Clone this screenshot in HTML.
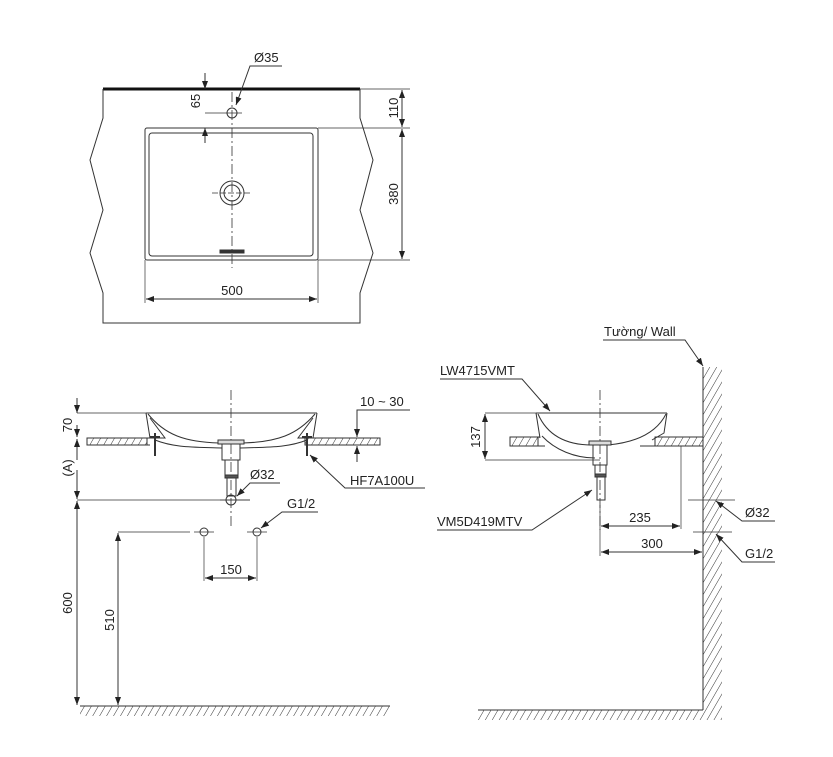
<!DOCTYPE html>
<html><head><meta charset="utf-8"><style>
html,body{margin:0;padding:0;background:#fff}
svg{display:block}
text{font-family:"Liberation Sans",Arial,sans-serif;font-size:13px;fill:#222}
</style></head><body>
<svg width="833" height="757" viewBox="0 0 833 757" xmlns="http://www.w3.org/2000/svg">
<defs>
<pattern id="h" width="6" height="6" patternUnits="userSpaceOnUse" patternTransform="rotate(30)">
<line x1="0" y1="0" x2="0" y2="6" stroke="#333" stroke-width="1"/></pattern>
<marker id="a" markerWidth="8" markerHeight="6" refX="8" refY="3" orient="auto" markerUnits="userSpaceOnUse">
<path d="M0,0 L8,3 L0,6 z" fill="#222"/></marker>
</defs>
<g fill="none" stroke="#333" stroke-width="1">
<!-- TOP VIEW -->
<line x1="103" y1="89" x2="360" y2="89" stroke="#111" stroke-width="3"/>
<polyline points="103,89 103,118 90,160 103,210 90,253 103,293 103,323 360,323 360,293 373,253 360,210 373,160 360,118 360,89"/>
<rect x="145" y="128" width="173" height="132" rx="2"/>
<rect x="149" y="133" width="164" height="123" rx="3"/>
<line x1="232" y1="92" x2="232" y2="268" stroke-dasharray="10,3,2,3" stroke-width="0.8"/>
<circle cx="232" cy="113" r="5"/>
<line x1="222" y1="113" x2="242" y2="113" stroke-width="0.8"/>
<circle cx="232" cy="193" r="12"/><circle cx="232" cy="193" r="8"/>
<line x1="212" y1="193" x2="252" y2="193" stroke-dasharray="6,2" stroke-width="0.8"/>
<path d="M220,250 h24 v3 h-24 z" fill="#333"/>
<line x1="205" y1="73" x2="205" y2="89" marker-end="url(#a)"/>
<line x1="205" y1="143" x2="205" y2="128" marker-end="url(#a)"/>
<line x1="205" y1="113" x2="222" y2="113" stroke-width="0.8"/>
<polyline points="282,66 250,66 236,105" marker-end="url(#a)"/>
<line x1="360" y1="89" x2="410" y2="89" stroke-width="0.7"/>
<line x1="318" y1="128" x2="410" y2="128" stroke-width="0.7"/>
<line x1="318" y1="260" x2="410" y2="260" stroke-width="0.7"/>
<line x1="402" y1="96" x2="402" y2="90" marker-end="url(#a)"/>
<line x1="402" y1="96" x2="402" y2="127" marker-end="url(#a)"/>
<line x1="402" y1="190" x2="402" y2="129" marker-end="url(#a)"/>
<line x1="402" y1="190" x2="402" y2="259" marker-end="url(#a)"/>
<line x1="145" y1="260" x2="145" y2="303" stroke-width="0.7"/>
<line x1="318" y1="260" x2="318" y2="303" stroke-width="0.7"/>
<line x1="232" y1="299" x2="146" y2="299" marker-end="url(#a)"/>
<line x1="232" y1="299" x2="317" y2="299" marker-end="url(#a)"/>

<!-- LEFT SIDE VIEW -->
<rect x="87" y="438" width="60" height="7" fill="url(#h)"/>
<rect x="305" y="438" width="75" height="7" fill="url(#h)"/>
<line x1="87" y1="438" x2="150" y2="438"/><line x1="87" y1="445" x2="150" y2="445"/>
<line x1="310" y1="438" x2="380" y2="438"/><line x1="310" y1="445" x2="380" y2="445"/>
<line x1="231" y1="390" x2="231" y2="527" stroke-dasharray="10,3,2,3" stroke-width="0.8"/>
<line x1="146" y1="413" x2="317" y2="413"/>
<path d="M146,413 L150,438 L165,438 L150,418"/>
<path d="M317,413 L313,438 L298,438 L313,418"/>
<path d="M148,414 C165,435 185,442 219,443 M243,443 C277,442 297,435 315,414"/>
<path d="M155,440 C175,448 195,447 222,448 M240,448 C267,447 287,448 307,440"/>
<rect x="218" y="440" width="26" height="4" fill="#ddd"/>
<rect x="222" y="444" width="18" height="16"/>
<rect x="225" y="460" width="13" height="15"/>
<rect x="225" y="475" width="13" height="3" fill="#555"/>
<rect x="227" y="478" width="9" height="18"/>
<circle cx="231" cy="500" r="5"/>
<line x1="220" y1="500" x2="250" y2="500" stroke-width="0.7"/>
<line x1="155" y1="433" x2="155" y2="456" stroke-width="2"/>
<line x1="307" y1="433" x2="307" y2="456" stroke-width="2"/>
<line x1="150" y1="437" x2="160" y2="437" stroke-width="2"/><line x1="302" y1="437" x2="312" y2="437" stroke-width="2"/>
<line x1="77" y1="413" x2="146" y2="413" stroke-width="0.7"/>
<line x1="77" y1="398" x2="77" y2="413" marker-end="url(#a)"/>
<line x1="77" y1="425" x2="77" y2="437" marker-end="url(#a)"/>
<line x1="77" y1="460" x2="77" y2="439" marker-end="url(#a)"/>
<line x1="77" y1="470" x2="77" y2="499" marker-end="url(#a)"/>
<line x1="77" y1="500" x2="250" y2="500" stroke-width="0.7"/>
<line x1="77" y1="600" x2="77" y2="501" marker-end="url(#a)"/>
<line x1="77" y1="600" x2="77" y2="705" marker-end="url(#a)"/>
<line x1="118" y1="532" x2="190" y2="532" stroke-width="0.7"/>
<line x1="118" y1="620" x2="118" y2="533" marker-end="url(#a)"/>
<line x1="118" y1="620" x2="118" y2="705" marker-end="url(#a)"/>
<circle cx="204" cy="532" r="4"/><circle cx="257" cy="532" r="4"/>
<line x1="194" y1="532" x2="214" y2="532" stroke-width="0.7"/><line x1="247" y1="532" x2="267" y2="532" stroke-width="0.7"/>
<line x1="204" y1="537" x2="204" y2="581" stroke-width="0.7"/><line x1="257" y1="537" x2="257" y2="581" stroke-width="0.7"/>
<line x1="231" y1="578" x2="205" y2="578" marker-end="url(#a)"/>
<line x1="231" y1="578" x2="256" y2="578" marker-end="url(#a)"/>
<polyline points="280,483 250,483 237,496" marker-end="url(#a)"/>
<polyline points="318,512 282,512 261,528" marker-end="url(#a)"/>
<polyline points="410,410 357,410 357,437" marker-end="url(#a)"/>
<line x1="357" y1="462" x2="357" y2="446" marker-end="url(#a)"/>
<polyline points="425,488 345,488 310,455" marker-end="url(#a)"/>
<line x1="80" y1="706" x2="390" y2="706"/>
<rect x="80" y="706" width="310" height="10" fill="url(#h)" stroke="none"/>

<!-- RIGHT SIDE VIEW -->
<line x1="703" y1="367" x2="703" y2="710"/>
<rect x="703" y="367" width="19" height="343" fill="url(#h)" stroke="none"/>
<rect x="510" y="437" width="28" height="9" fill="url(#h)"/>
<rect x="655" y="437" width="48" height="9" fill="url(#h)"/>
<line x1="510" y1="437" x2="540" y2="437"/><line x1="510" y1="446" x2="545" y2="446"/>
<line x1="655" y1="437" x2="703" y2="437"/><line x1="640" y1="446" x2="703" y2="446"/>
<line x1="536" y1="413" x2="667" y2="413"/>
<path d="M536,413 L540,438 M667,413 L664,433 L652,440 M538,414 C545,430 560,445 592,445 M608,445 C640,442 658,430 666,414"/>
<path d="M542,436 C555,450 575,458 595,458"/>
<line x1="600" y1="390" x2="600" y2="530" stroke-dasharray="10,3,2,3" stroke-width="0.8"/>
<rect x="589" y="441" width="22" height="4" fill="#ddd"/>
<rect x="593" y="445" width="14" height="20"/>
<rect x="595" y="465" width="11" height="12"/>
<rect x="595" y="474" width="11" height="3" fill="#555"/>
<rect x="597" y="477" width="8" height="23"/>
<line x1="485" y1="413" x2="536" y2="413" stroke-width="0.7"/>
<line x1="485" y1="460" x2="600" y2="460" stroke-width="0.7"/>
<line x1="485" y1="437" x2="485" y2="414" marker-end="url(#a)"/>
<line x1="485" y1="437" x2="485" y2="459" marker-end="url(#a)"/>
<line x1="600" y1="505" x2="600" y2="556" stroke-width="0.7"/>
<line x1="681" y1="446" x2="681" y2="529" stroke-width="0.7"/>
<line x1="640" y1="526" x2="601" y2="526" marker-end="url(#a)"/>
<line x1="640" y1="526" x2="680" y2="526" marker-end="url(#a)"/>
<line x1="650" y1="552" x2="601" y2="552" marker-end="url(#a)"/>
<line x1="650" y1="552" x2="702" y2="552" marker-end="url(#a)"/>
<line x1="688" y1="500" x2="735" y2="500" stroke-width="0.7"/>
<line x1="693" y1="532" x2="732" y2="532" stroke-width="0.7"/>
<polyline points="775,521 742,521 716,501" marker-end="url(#a)"/>
<polyline points="775,562 742,562 716,534" marker-end="url(#a)"/>
<polyline points="440,379 522,379 550,411" marker-end="url(#a)"/>
<polyline points="437,530 532,530 592,490" marker-end="url(#a)"/>
<polyline points="603,340 685,340 703,366" marker-end="url(#a)"/>
<line x1="478" y1="710" x2="703" y2="710"/>
<rect x="478" y="710" width="244" height="10" fill="url(#h)" stroke="none"/>
</g>
<g>
<text x="254" y="62">Ø35</text>
<text x="232" y="295" text-anchor="middle">500</text>
<text transform="translate(200,101) rotate(-90)" text-anchor="middle">65</text>
<text transform="translate(398,108) rotate(-90)" text-anchor="middle">110</text>
<text transform="translate(398,194) rotate(-90)" text-anchor="middle">380</text>
<text transform="translate(72,425) rotate(-90)" text-anchor="middle">70</text>
<text transform="translate(72,468) rotate(-90)" text-anchor="middle">(A)</text>
<text transform="translate(72,603) rotate(-90)" text-anchor="middle">600</text>
<text transform="translate(114,620) rotate(-90)" text-anchor="middle">510</text>
<text x="250" y="479">Ø32</text>
<text x="287" y="508">G1/2</text>
<text x="231" y="574" text-anchor="middle">150</text>
<text x="360" y="406">10 ~ 30</text>
<text x="350" y="485">HF7A100U</text>
<text x="604" y="336">Tường/ Wall</text>
<text x="440" y="375">LW4715VMT</text>
<text x="437" y="526">VM5D419MTV</text>
<text transform="translate(480,437) rotate(-90)" text-anchor="middle">137</text>
<text x="640" y="522" text-anchor="middle">235</text>
<text x="652" y="548" text-anchor="middle">300</text>
<text x="745" y="517">Ø32</text>
<text x="745" y="558">G1/2</text>
</g>
</svg>
</body></html>
